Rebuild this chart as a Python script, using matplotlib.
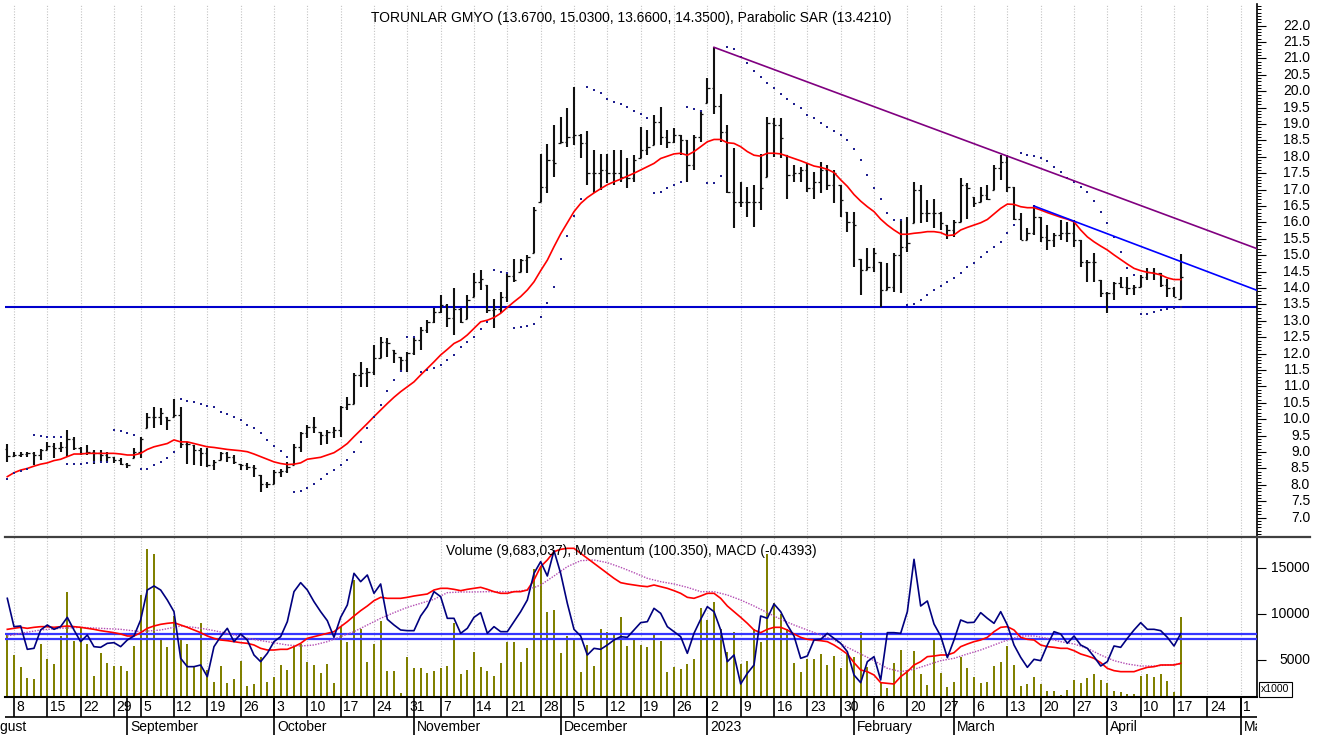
import matplotlib
matplotlib.use("Agg")
import matplotlib.pyplot as plt
from matplotlib.lines import Line2D
from matplotlib.patches import Rectangle
from matplotlib.transforms import offset_copy
import numpy as np
import pandas as pd

plt.rcParams['font.family'] = ['Liberation Sans', 'DejaVu Sans']

# ---- data (one value per trading day, 2022-08-05 .. 2023-04-18) ----
first_day = '2022-08-05'
holidays = ['2022-08-30', '2023-02-08', '2023-02-09', '2023-02-10',
            '2023-02-13', '2023-02-14']

open_ = [9.10, 8.89, 8.91, 8.94, 8.96, 8.91, 9.06, 9.19, 9.11, 9.16,
         9.39, 9.11, 8.96, 9.01, 8.96, 8.91, 8.86, 8.76, 8.65, 8.60,
         9.01, 9.39, 10.08, 10.08, 10.18, 9.98, 10.13, 9.26, 9.26, 9.06,
         8.96, 8.60, 8.70, 8.96, 8.86, 8.70, 8.60, 8.55, 8.50, 8.04,
         8.04, 8.40, 8.43, 8.55, 9.16, 9.57, 9.77, 9.77, 9.52, 9.62,
         9.67, 10.38, 10.48, 11.35, 11.40, 11.45, 11.86, 12.36, 12.31, 12.01,
         11.80, 12.01, 12.41, 12.72, 12.97, 13.28, 13.48, 13.08, 13.35, 12.97,
         13.63, 14.19, 14.29, 13.33, 13.35, 13.74, 14.37, 14.26, 14.85, 14.95,
         16.38, 17.07, 17.90, 17.80, 18.46, 18.61, 18.66, 18.41, 17.50, 17.50,
         17.60, 17.50, 17.50, 17.39, 17.34, 17.90, 18.21, 18.31, 19.07, 18.61,
         18.46, 18.66, 18.51, 17.75, 18.61, 19.32, 20.09, 19.55, 18.77, 16.94,
         16.63, 16.63, 16.63, 16.63, 17.04, 19.02, 18.97, 18.56, 17.45, 17.50,
         17.60, 17.04, 17.24, 17.60, 17.14, 17.50, 16.68, 16.02, 15.92, 14.55,
         14.65, 15.06, 13.94, 14.04, 15.00, 15.26, 15.36, 16.99, 16.28, 16.28,
         16.28, 15.97, 15.77, 16.02, 17.14, 17.04, 16.58, 16.83, 16.73, 17.65,
         17.85, 17.09, 16.12, 15.48, 15.67, 16.17, 15.56, 15.46, 15.62, 15.67,
         15.67, 15.46, 14.80, 14.80, 14.80, 13.84, 13.84, 14.14, 14.04, 13.99,
         14.04, 14.34, 14.50, 14.45, 14.09, 13.99, 13.67]

high = [9.26, 8.99, 8.99, 9.01, 9.01, 9.08, 9.31, 9.28, 9.31, 9.67,
        9.47, 9.16, 9.21, 9.06, 9.06, 9.01, 8.86, 8.81, 8.67, 9.11,
        9.47, 10.18, 10.38, 10.33, 10.08, 10.61, 10.38, 9.31, 9.21, 9.11,
        9.11, 8.76, 9.01, 9.01, 8.91, 8.65, 8.67, 8.60, 8.30, 8.09,
        8.45, 8.47, 8.70, 9.26, 9.62, 9.82, 10.08, 9.62, 9.67, 9.77,
        10.40, 10.69, 11.40, 11.75, 11.55, 12.26, 12.52, 12.47, 12.11, 11.91,
        12.06, 12.52, 12.82, 13.02, 13.38, 13.79, 13.51, 13.99, 13.38, 13.79,
        14.45, 14.55, 14.09, 13.68, 13.89, 14.50, 14.90, 14.90, 15.01, 16.46,
        18.08, 18.39, 18.97, 19.22, 19.48, 20.14, 18.71, 18.80, 18.21, 18.08,
        18.08, 18.21, 18.21, 17.95, 18.05, 18.92, 18.82, 19.27, 19.53, 18.82,
        18.87, 18.66, 18.51, 18.66, 19.43, 20.39, 21.34, 19.93, 18.97, 18.26,
        17.24, 17.09, 17.14, 18.10, 19.22, 19.17, 19.17, 18.05, 17.75, 17.70,
        17.80, 17.55, 17.85, 17.75, 17.60, 17.14, 16.33, 16.33, 14.90, 15.21,
        15.21, 14.80, 14.75, 15.06, 16.12, 16.17, 17.24, 17.14, 16.68, 16.73,
        16.33, 15.92, 16.07, 17.34, 17.19, 16.78, 17.09, 17.14, 17.75, 18.06,
        18.06, 17.09, 16.28, 15.82, 16.53, 16.17, 15.92, 15.67, 16.07, 16.02,
        16.07, 15.46, 14.85, 15.06, 14.24, 13.89, 14.19, 14.34, 14.34, 14.09,
        14.40, 14.60, 14.60, 14.45, 14.29, 14.04, 15.03]

low = [8.70, 8.86, 8.86, 8.86, 8.60, 8.76, 9.06, 8.81, 9.01, 8.86,
       9.06, 8.91, 8.91, 8.65, 8.70, 8.70, 8.67, 8.60, 8.50, 8.81,
       8.81, 9.72, 9.72, 9.82, 9.67, 10.08, 9.11, 8.65, 8.60, 8.57,
       8.55, 8.45, 8.76, 8.70, 8.65, 8.45, 8.45, 8.25, 7.79, 7.89,
       8.04, 8.25, 8.35, 8.60, 9.01, 9.42, 9.57, 9.21, 9.26, 9.42,
       9.47, 10.28, 10.48, 10.99, 10.99, 11.35, 11.86, 11.91, 11.70, 11.45,
       11.45, 11.96, 12.11, 12.62, 12.92, 13.23, 12.82, 12.57, 12.92, 13.07,
       13.74, 13.94, 13.23, 12.77, 13.23, 13.58, 14.19, 14.50, 14.45, 15.06,
       16.63, 16.89, 17.39, 18.41, 18.31, 18.36, 17.95, 17.14, 16.89, 16.99,
       17.19, 17.14, 17.24, 17.04, 17.24, 17.95, 18.05, 18.36, 18.36, 18.26,
       18.41, 18.05, 17.24, 17.60, 18.46, 19.63, 19.32, 18.46, 16.89, 15.82,
       16.48, 16.17, 15.87, 16.38, 17.39, 18.00, 17.95, 16.73, 17.24, 17.24,
       16.94, 16.73, 16.89, 16.99, 16.58, 16.17, 15.72, 14.65, 13.79, 14.55,
       14.50, 13.43, 13.94, 13.89, 13.84, 15.11, 15.97, 15.97, 16.02, 15.82,
       15.77, 15.51, 15.56, 16.02, 16.12, 16.48, 16.63, 16.68, 16.99, 17.29,
       16.94, 16.07, 15.46, 15.46, 15.62, 15.41, 15.16, 15.26, 15.46, 15.41,
       15.26, 14.65, 14.19, 14.19, 13.74, 13.23, 13.63, 13.99, 13.79, 13.79,
       14.04, 14.24, 14.24, 14.04, 13.74, 13.74, 13.66]

close = [8.89, 8.91, 8.94, 8.96, 8.91, 9.06, 9.19, 9.11, 9.16, 9.39,
         9.11, 8.96, 9.01, 8.96, 8.91, 8.86, 8.76, 8.65, 8.60, 9.01,
         9.39, 10.08, 10.08, 10.18, 9.98, 10.13, 9.26, 9.26, 9.06, 8.96,
         8.60, 8.70, 8.96, 8.86, 8.70, 8.60, 8.55, 8.50, 8.04, 8.04,
         8.40, 8.43, 8.55, 9.16, 9.57, 9.77, 9.77, 9.52, 9.62, 9.67,
         10.38, 10.48, 11.35, 11.40, 11.45, 11.86, 12.36, 12.31, 12.01, 11.80,
         12.01, 12.41, 12.72, 12.97, 13.28, 13.48, 13.08, 13.35, 12.97, 13.63,
         14.19, 14.29, 13.33, 13.35, 13.74, 14.37, 14.26, 14.85, 14.95, 16.38,
         17.07, 17.90, 17.80, 18.46, 18.61, 18.66, 18.41, 17.50, 17.50, 17.60,
         17.50, 17.50, 17.39, 17.34, 17.90, 18.21, 18.31, 19.07, 18.61, 18.46,
         18.66, 18.51, 17.75, 18.61, 19.32, 20.09, 19.55, 18.77, 16.94, 16.63,
         16.63, 16.63, 16.63, 17.04, 19.02, 18.97, 18.56, 17.45, 17.50, 17.60,
         17.04, 17.24, 17.60, 17.14, 17.50, 16.68, 16.02, 15.92, 14.55, 14.65,
         15.06, 13.94, 14.04, 15.00, 15.26, 15.36, 16.99, 16.28, 16.28, 16.28,
         15.97, 15.77, 16.02, 17.14, 17.04, 16.58, 16.83, 16.73, 17.65, 17.85,
         17.09, 16.12, 15.48, 15.67, 16.17, 15.56, 15.46, 15.62, 15.67, 15.67,
         15.46, 14.80, 14.80, 14.80, 13.84, 13.84, 14.14, 14.04, 13.99, 14.04,
         14.34, 14.50, 14.45, 14.09, 13.99, 13.74, 14.35]

moving_avg = [8.25, 8.37, 8.45, 8.50, 8.57, 8.63, 8.67, 8.74, 8.78, 8.86,
              8.94, 8.94, 8.96, 8.96, 8.96, 8.96, 8.96, 8.94, 8.91, 8.91,
              8.96, 9.08, 9.16, 9.21, 9.26, 9.37, 9.31, 9.31, 9.26, 9.21,
              9.16, 9.14, 9.11, 9.08, 9.06, 9.04, 9.01, 8.94, 8.86, 8.78,
              8.70, 8.65, 8.62, 8.63, 8.67, 8.78, 8.81, 8.84, 8.91, 8.98,
              9.11, 9.26, 9.47, 9.67, 9.87, 10.08, 10.28, 10.48, 10.67, 10.84,
              10.99, 11.14, 11.35, 11.55, 11.75, 11.96, 12.13, 12.31, 12.41, 12.57,
              12.77, 12.97, 13.02, 13.10, 13.23, 13.41, 13.58, 13.74, 13.94, 14.19,
              14.53, 14.85, 15.26, 15.65, 15.99, 16.33, 16.58, 16.76, 16.90, 17.03,
              17.15, 17.24, 17.32, 17.41, 17.50, 17.60, 17.70, 17.80, 17.95, 18.02,
              18.09, 18.11, 18.05, 18.16, 18.31, 18.46, 18.53, 18.53, 18.43, 18.41,
              18.31, 18.16, 18.05, 18.02, 18.11, 18.11, 18.09, 18.02, 17.95, 17.88,
              17.80, 17.72, 17.68, 17.62, 17.52, 17.30, 17.10, 16.85, 16.65, 16.48,
              16.33, 16.10, 15.92, 15.77, 15.64, 15.64, 15.67, 15.69, 15.72, 15.72,
              15.69, 15.60, 15.62, 15.77, 15.85, 15.92, 15.99, 16.09, 16.26, 16.43,
              16.56, 16.55, 16.48, 16.45, 16.45, 16.38, 16.30, 16.23, 16.16, 16.10,
              16.02, 15.77, 15.56, 15.41, 15.28, 15.16, 15.01, 14.87, 14.73, 14.60,
              14.53, 14.48, 14.45, 14.40, 14.31, 14.26, 14.26]

sar = [8.18, 8.35, 8.43, 8.47, 9.52, 9.49, 9.47, 9.47, 9.45, 8.63,
       8.65, 8.65, 8.67, 8.70, 8.70, 8.70, 9.67, 9.65, 9.59, 9.52,
       8.47, 8.47, 8.60, 8.70, 8.81, 9.01, 10.61, 10.56, 10.53, 10.46,
       10.40, 10.36, 10.23, 10.16, 10.06, 9.99, 9.82, 9.72, 9.57, 9.37,
       9.18, 9.04, 8.86, 7.79, 7.82, 7.89, 8.02, 8.17, 8.33, 8.45,
       8.60, 8.76, 9.01, 9.32, 9.72, 10.08, 10.43, 10.87, 11.19, 11.48,
       12.52, 12.52, 11.45, 11.50, 11.55, 11.65, 11.80, 11.95, 12.19, 12.36,
       12.52, 12.75, 12.95, 14.55, 14.50, 14.47, 12.77, 12.80, 12.85, 12.90,
       13.13, 13.55, 14.02, 14.90, 15.60, 16.20, 16.70, 20.12, 20.04, 19.95,
       19.75, 19.68, 19.61, 19.51, 19.41, 19.30, 19.17, 16.89, 16.94, 17.04,
       17.14, 17.24, 19.53, 19.45, 19.40, 17.21, 17.21, 17.41, 21.36, 21.28,
       21.05, 20.85, 20.63, 20.42, 20.26, 20.09, 19.93, 19.75, 19.61, 19.48,
       19.27, 19.17, 19.04, 18.92, 18.80, 18.66, 18.51, 18.25, 17.90, 17.45,
       17.06, 16.72, 16.30, 16.07, 16.07, 13.47, 13.51, 13.63, 13.80, 13.94,
       14.07, 14.19, 14.32, 14.47, 14.63, 14.77, 14.95, 15.11, 15.24, 15.41,
       15.67, 15.92, 18.11, 18.05, 18.02, 17.95, 17.88, 17.70, 17.55, 17.37,
       17.24, 17.09, 16.94, 16.65, 16.33, 15.97, 15.56, 15.11, 14.60, 14.40,
       13.20, 13.22, 13.27, 13.32, 13.36, 13.39, 13.42]

# volume in thousands of shares
volume = [7889, 5523, 4249, 2975, 2866, 6724, 5050, 4540, 7598, 12439,
          7088, 8544, 6724, 3266, 5705, 4686, 4322, 4322, 3776, 6506,
          12075, 17062, 16552, 7343, 6360, 9782, 7343, 6724, 4249, 8981,
          3885, 2611, 4322, 2502, 2866, 4904, 2137, 2356, 5268, 2611,
          3157, 4431, 3885, 6360, 6724, 4795, 4431, 3521, 4540, 2502,
          8690, 6979, 13713, 8326, 4795, 6724, 9272, 3776, 3776, 1337,
          5268, 4067, 4067, 3521, 3776, 4067, 4322, 8981, 3412, 3885,
          5814, 4176, 3776, 3266, 4686, 6979, 6979, 4795, 6251, 14914,
          15169, 10182, 10437, 5705, 7598, 7416, 3703, 6615, 4322, 8362,
          7998, 7707, 9636, 6506, 7234, 6615, 6360, 7816, 7088, 3703,
          4176, 3958, 4540, 5050, 10692, 9345, 11347, 8326, 5887, 7998,
          4540, 4904, 8362, 6979, 16552, 11238, 10000, 8326, 4686, 3703,
          5087, 5087, 5596, 4431, 5414, 4067, 5778, 5268, 8071, 4249,
          1082, 2502, 1884, 4686, 6033, 3885, 5960, 3448, 2247, 7234,
          3521, 1993, 2611, 5341, 4067, 3157, 2502, 2611, 4322, 4795,
          6506, 4431, 2137, 2356, 3157, 2356, 1591, 1591, 1155, 1700,
          2793, 2502, 3048, 3412, 2793, 2502, 1591, 1519, 1264, 1264,
          3266, 3448, 3157, 3412, 2684, 1519, 9683]

momentum = [11711, 8617, 8690, 6142, 6251, 8253, 8799, 8326, 8617, 9636,
            8253, 6979, 7707, 6433, 6360, 6797, 6870, 6433, 7161, 7598,
            9345, 12621, 13058, 12621, 11529, 10255, 5159, 4249, 4249, 4431,
            3157, 6433, 7525, 8435, 6979, 7816, 7161, 5523, 4795, 5705,
            6979, 7525, 9163, 12439, 13422, 12621, 11347, 10255, 9272, 7452,
            9636, 10983, 14441, 13531, 14259, 12257, 13277, 9418, 8799, 8253,
            8180, 8180, 9782, 10801, 12439, 11893, 9527, 9527, 7889, 8435,
            9636, 10146, 7889, 8617, 8071, 8071, 9163, 10255, 11529, 14441,
            15715, 14150, 16916, 14441, 11165, 8326, 7598, 5523, 6251, 6142,
            6615, 7161, 7525, 7452, 8253, 9054, 9163, 10619, 10073, 8617,
            8071, 7525, 5705, 7889, 9418, 10801, 10255, 8253, 4795, 5523,
            2356, 3521, 4431, 9782, 9527, 11092, 10255, 8799, 7598, 5159,
            5414, 7161, 7234, 7889, 7343, 6797, 5887, 3339, 2502, 4795,
            5341, 2793, 7962, 7962, 7889, 10255, 15970, 10874, 11420, 8908,
            7598, 5232, 7161, 9345, 9054, 9090, 10146, 9527, 8981, 10255,
            8799, 6615, 5268, 4176, 5050, 4904, 6615, 8071, 7816, 6797,
            7598, 6615, 6251, 5341, 4322, 4795, 6506, 6360, 7343, 8253,
            9054, 8326, 8326, 8180, 7452, 6506, 7853]

macd = [8326, 8435, 8544, 8435, 8544, 8617, 8617, 8544, 8617, 8690,
        8617, 8544, 8435, 8326, 8180, 8071, 7962, 7816, 7598, 7598,
        7962, 8435, 8690, 8872, 8981, 9054, 8799, 8544, 8253, 7962,
        7598, 7343, 7161, 7088, 6979, 6870, 6797, 6615, 6251, 6069,
        6069, 6142, 6142, 6433, 6797, 7343, 7525, 7707, 7889, 8071,
        8617, 9163, 9782, 10364, 10874, 11456, 11820, 11711, 11711, 11711,
        11820, 11966, 12075, 12184, 12621, 12803, 12803, 12694, 12548, 12694,
        12803, 12912, 12694, 12439, 12257, 12257, 12439, 12439, 12621, 13713,
        15169, 15897, 16807, 17062, 17171, 17171, 16625, 16079, 15533, 14987,
        14441, 13895, 13422, 13277, 13167, 13058, 12985, 13167, 12985, 12803,
        12548, 12257, 11820, 11711, 11966, 12257, 12257, 11711, 10874, 10255,
        9636, 8981, 8253, 7962, 8326, 8544, 8544, 8253, 7816, 7452,
        7234, 7161, 7088, 6979, 6615, 6142, 5632, 4686, 3885, 3703,
        3339, 2502, 2429, 2356, 3157, 3703, 4431, 4795, 5341, 5414,
        5523, 5523, 5778, 6433, 6724, 6979, 7161, 7452, 8071, 8544,
        8617, 8253, 7452, 7234, 7161, 6615, 6433, 6360, 6251, 6251,
        5996, 5632, 5414, 5159, 4686, 4067, 3812, 3703, 3703, 3703,
        3958, 4176, 4249, 4431, 4431, 4431, 4613]

signal_day = [0, 2, 5, 8, 11, 14, 17, 20, 23, 26, 28, 30, 33, 36, 39, 42, 44, 46,
              48, 50, 52, 54, 56, 58, 60, 62, 64, 66, 68, 70, 72, 74, 76, 78,
              80, 82, 84, 86, 88, 90, 92, 94, 96, 98, 100, 102, 104, 106, 108,
              110, 112, 114, 116, 118, 120, 122, 124, 126, 128, 130, 132, 134,
              136, 138, 140, 142, 144, 146, 148, 150, 152, 154, 156, 158, 160,
              162, 164, 166, 168, 170, 172, 174, 176]
signal = [7598, 7889, 8253, 8435, 8544, 8435, 8326, 8071, 8253, 8690, 8544, 8326,
          7889, 7343, 6979, 6615, 6506, 6615, 6979, 7525, 8071, 8799, 9527,
          10146, 10728, 11165, 11602, 12330, 12403, 12403, 12439, 12439, 12439,
          12621, 13167, 14150, 15169, 15824, 15897, 15606, 15096, 14514, 13895,
          13531, 13277, 12912, 12439, 12439, 12075, 11529, 10874, 10146, 9418,
          8799, 8253, 7707, 7161, 6360, 5632, 4904, 4067, 3703, 3958, 4431,
          4904, 5159, 5632, 6069, 6615, 7161, 7598, 7598, 7343, 6979, 6724,
          6251, 5523, 4904, 4540, 4322, 4322, 4431, 4540]

momentum_ref = 7860
macd_zero = 7250

support_level = 13.43
trend_purple_day = [106, 187.45]
trend_purple_px = [21.34, 15.20]
trend_blue_day = [154, 187.45]
trend_blue_px = [16.50, 13.93]

price_ticks = np.arange(7.0, 22.01, 0.5)
volume_ticks = [5000, 10000, 15000]

title_top = ("TORUNLAR GMYO (13.6700, 15.0300, 13.6600, 14.3500), "
             "Parabolic SAR (13.4210)")
title_bottom = "Volume (9,683,037), Momentum (100.350), MACD (-0.4393)"

# ---- trading calendar -> bar positions ----
cal = pd.bdate_range('2022-08-01', '2023-05-05')
cal = cal[~cal.isin(pd.to_datetime(holidays))]
cal_pos = np.arange(len(cal)) - cal.get_loc(pd.Timestamp(first_day))

mondays = cal.weekday == 0
week_pos = cal_pos[mondays]
week_lab = [str(d.day) for d in cal[mondays]]
keep = week_pos > 0
week_pos = week_pos[keep]
week_lab = [l for l, k in zip(week_lab, keep) if k]

month_first = ~pd.Series(cal.to_period('M')).duplicated().values
month_pos = cal_pos[month_first]
month_lab = [str(d.year) if d.month == 1 else d.strftime('%B')
             for d in cal[month_first]]

# ---- figure ----
W, H = 1325.0, 740.0
bar0_px, step_px = 7.3, 6.667


def xlim_for(left_px, right_px):
    return ((left_px - bar0_px) / step_px, (right_px - bar0_px) / step_px)


fig = plt.figure(figsize=(13.25, 7.4), dpi=100)
ax = fig.add_axes([5 / W, 1 - 537 / H, 1252 / W, 533 / H])
axv = fig.add_axes([5 / W, 1 - 697 / H, 1252 / W, 160 / H])
axd = fig.add_axes([0, 0, 1257 / W, 43 / H])

idx = np.arange(len(close))
o = np.clip(open_, low, high)

# price panel
ax.axhline(support_level, color='#0000cc', lw=1.5, zorder=2)
ax.vlines(idx, low, high, color='#111111', lw=1.5, zorder=3)
ax.hlines(o, idx - 0.35, idx, color='#111111', lw=0.9, zorder=3)
ax.hlines(close, idx, idx + 0.35, color='#111111', lw=0.9, zorder=3)
ax.plot(idx, moving_avg, color='#ff0000', lw=1.2, zorder=4)
ax.scatter(idx, sar, marker='s', s=2.2, color='#1f1f8f', linewidths=0, zorder=4)
ax.plot(trend_purple_day, trend_purple_px, color='#800080', lw=1.2, zorder=5)
ax.plot(trend_blue_day, trend_blue_px, color='#0000ff', lw=1.2, zorder=5)

ax.set_xlim(*xlim_for(5, 1257))
ax.set_ylim(6.41, 22.66)
ax.yaxis.tick_right()
ax.set_yticks(price_ticks)
ax.set_yticks(np.arange(6.5, 22.65, 0.1), minor=True)
ax.tick_params(axis='y', which='major', direction='out', length=6.5, width=0.8,
               labelright=False)
ax.tick_params(axis='y', which='minor', direction='out', length=3.2, width=0.7)

# volume / momentum / macd panel
axv.bar(idx, volume, width=0.32, color='#808000', linewidth=0, zorder=2)
axv.axhline(momentum_ref, color='#3535ff', lw=1.6, zorder=3)
axv.axhline(macd_zero, color='#3535ff', lw=1.6, zorder=3)
axv.plot(signal_day, signal, color='#b34db3', lw=1.0, ls=(0, (1, 1)), zorder=4)
axv.plot(idx, macd, color='#ff0000', lw=1.2, zorder=5)
axv.plot(idx, momentum, color='#00007f', lw=1.2, zorder=6)

axv.set_xlim(*xlim_for(5, 1257))
axv.set_ylim(936, 18408)
axv.yaxis.tick_right()
axv.set_yticks(volume_ticks)
axv.tick_params(axis='y', direction='out', length=6.5, width=0.8, labelright=False)

# right-aligned value labels next to both right axes
for a, ticks, fmt in ((ax, price_ticks, '{:.1f}'), (axv, volume_ticks, '{:.0f}')):
    tr = offset_copy(a.get_yaxis_transform(), fig=fig, x=53, y=0, units='dots')
    for v in ticks:
        a.text(1, v, fmt.format(v), transform=tr, ha='right', va='center',
               fontsize=10, clip_on=False)

for a in (ax, axv):
    a.set_xticks(week_pos)
    a.tick_params(axis='x', length=0, labelbottom=False)
    a.grid(True, axis='x', color='#c4c4c4', lw=0.8, ls=(0, (1, 1.5)))
    a.set_axisbelow(True)
    for s in ('top', 'left', 'bottom'):
        a.spines[s].set_visible(False)
    a.spines['right'].set_linewidth(1.2)
axv.spines['bottom'].set_visible(True)
axv.spines['bottom'].set_linewidth(1.5)

fig.add_artist(Line2D([5 / W, 1310 / W], [1 - 537 / H] * 2, color='#404040', lw=1.6))
fig.add_artist(Rectangle((1259 / W, 1 - 697 / H), 33 / W, 15 / H, transform=fig.transFigure,
                         fill=False, ec='black', lw=0.8))
fig.text(1275.5 / W, 1 - 689.5 / H, 'x1000', ha='center', va='center', fontsize=7.5)

fig.text(631 / W, 1 - 18 / H, title_top, ha='center', va='center', fontsize=10)
fig.text(631 / W, 1 - 551 / H, title_bottom, ha='center', va='center', fontsize=10)

# date axis: week numbers on the first row, months on the second
axd.set_xlim(*xlim_for(0, 1257))
axd.set_ylim(0, 1)
axd.axis('off')
row = 20 / 43.0
left_edge = xlim_for(5, 1257)[0]
axd.hlines(1 - row, left_edge, axd.get_xlim()[1], color='black', lw=1.2)
axd.vlines(week_pos, 1 - row, 1, color='black', lw=1.2)
axd.vlines(month_pos, 5 / 43.0, 1, color='black', lw=1.2)
tr_day = offset_copy(axd.transData, fig=fig, x=2.5, y=0, units='dots')
tr_mon = offset_copy(axd.transData, fig=fig, x=3.0, y=0, units='dots')
for p, lab in zip(week_pos, week_lab):
    axd.text(p, 1 - 10.3 / 43, lab, transform=tr_day, ha='left', va='center',
             fontsize=10, clip_on=True)
for p, lab in zip(month_pos, month_lab):
    axd.text(p, 1 - 29.7 / 43, lab, transform=tr_mon, ha='left', va='center',
             fontsize=10, clip_on=True)

fig.savefig('out.png', dpi=100)
